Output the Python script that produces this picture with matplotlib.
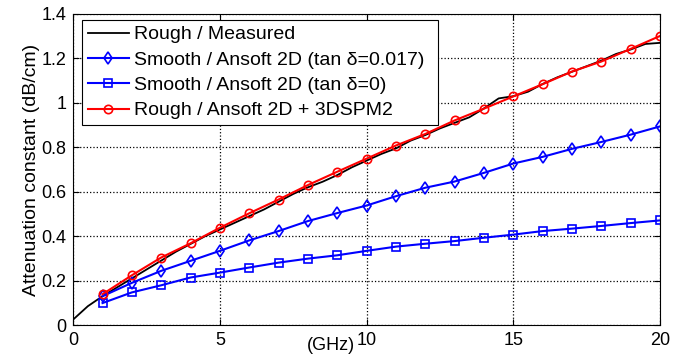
import numpy as np
import matplotlib.pyplot as plt

plt.rcParams['font.family'] = ['Liberation Sans', 'DejaVu Sans']

# frequency points (GHz)
freq = list(range(1, 21))

# Rough / Measured (dense trace)
meas_f = [0, 0.5, 1, 1.5, 2, 2.5, 3, 3.5, 4, 4.5, 5, 5.5, 6, 6.5, 7, 7.5, 8, 8.5, 9, 9.5,
          10, 10.5, 11, 11.5, 12, 12.5, 13, 13.5, 14, 14.5, 15, 15.5, 16, 16.5, 17, 17.5,
          18, 18.5, 19, 19.5, 20]
meas_a = [0.025, 0.085, 0.13, 0.17, 0.21, 0.25, 0.29, 0.33, 0.365, 0.40, 0.43, 0.46, 0.49,
          0.52, 0.555, 0.59, 0.62, 0.645, 0.675, 0.71, 0.74, 0.77, 0.795, 0.83, 0.855, 0.885,
          0.91, 0.935, 0.975, 1.02, 1.03, 1.05, 1.085, 1.115, 1.14, 1.165, 1.19, 1.22, 1.24,
          1.265, 1.27]

# Smooth / Ansoft 2D (tan d = 0.017)
smooth_loss = [0.13, 0.19, 0.244, 0.289, 0.334, 0.381, 0.423, 0.468, 0.504, 0.538,
               0.580, 0.618, 0.646, 0.685, 0.727, 0.757, 0.793, 0.824, 0.857, 0.894]
# Smooth / Ansoft 2D (tan d = 0)
smooth_noloss = [0.099, 0.147, 0.179, 0.214, 0.236, 0.259, 0.281, 0.299, 0.314, 0.334,
                 0.353, 0.366, 0.378, 0.393, 0.407, 0.423, 0.434, 0.446, 0.459, 0.471]
# Rough / Ansoft 2D + 3DSPM2
rough_model = [0.139, 0.224, 0.304, 0.368, 0.438, 0.503, 0.565, 0.630, 0.690, 0.749,
               0.808, 0.860, 0.921, 0.974, 1.029, 1.084, 1.141, 1.186, 1.243, 1.301]

labels = ['Rough / Measured',
          'Smooth / Ansoft 2D (tan \u03b4=0.017)',
          'Smooth / Ansoft 2D (tan \u03b4=0)',
          'Rough / Ansoft 2D + 3DSPM2']

fig = plt.figure(figsize=(6.84, 3.58), dpi=100)
ax = fig.add_axes([0.107, 0.092, 0.858, 0.869])

ax.plot(meas_f, meas_a, color='k', lw=1.3, label=labels[0])
ax.plot(freq, smooth_loss, color='#0000ff', lw=1.5, marker='d', ms=6, mfc='none',
        mew=1.2, label=labels[1])
ax.plot(freq, smooth_noloss, color='#0000ff', lw=1.5, marker='s', ms=6, mfc='none',
        mew=1.2, label=labels[2])
ax.plot(freq, rough_model, color='#ff0000', lw=1.5, marker='o', ms=6, mfc='none',
        mew=1.2, label=labels[3])

ax.set_xlim(0, 20)
ax.set_ylim(0, 1.4)
ax.set_xticks([0, 5, 10, 15, 20])
ax.set_yticks([0, 0.2, 0.4, 0.6, 0.8, 1.0, 1.2, 1.4])
ax.set_yticklabels(['0', '0.2', '0.4', '0.6', '0.8', '1', '1.2', '1.4'])
ax.tick_params(direction='in', top=True, right=True, labelsize=13, length=4, pad=5)
ax.grid(True, color='k', linestyle=':', linewidth=0.9)
for s in ax.spines.values():
    s.set_linewidth(0.8)

ax.set_ylabel('Attenuation constant (dB/cm)', fontsize=14, labelpad=1)
ax.text(9.62, -0.055, '(GHz)', ha='right', va='top', fontsize=13,
        transform=ax.transData)

leg = ax.legend(loc='upper left', bbox_to_anchor=(0.0153, 0.981, 0.607, 0.0),
                mode='expand', fontsize=14,
                frameon=True, fancybox=False, edgecolor='k', framealpha=1,
                borderpad=0.3, labelspacing=0.4, handlelength=2.1,
                handletextpad=0.26, borderaxespad=0)
leg.get_frame().set_linewidth(0.8)

fig.savefig('out.png', dpi=100)
